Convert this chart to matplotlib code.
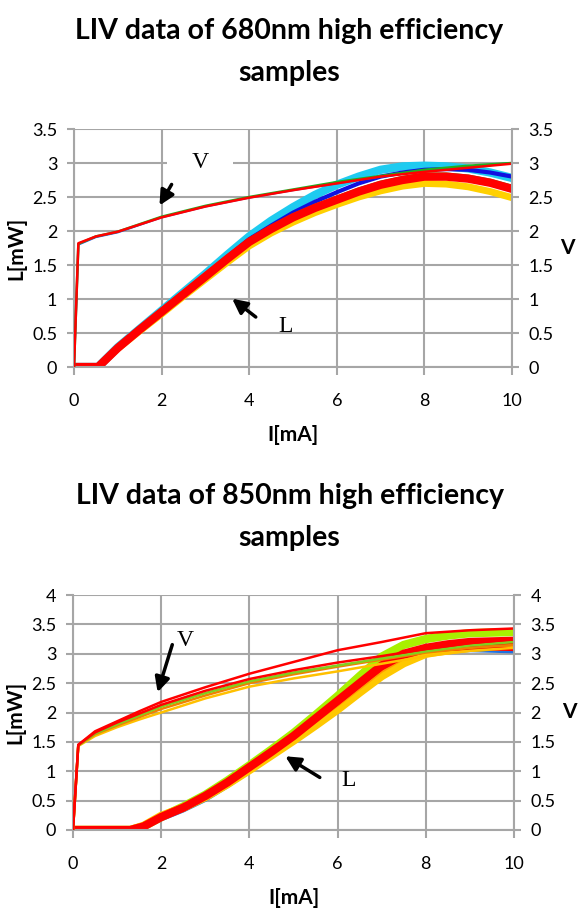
import matplotlib
matplotlib.use('Agg')
import matplotlib.pyplot as plt

# ---- 680nm samples (top chart) ----
I_L_680 = [0, 0.55, 1, 1.5, 2, 2.5, 3, 3.5, 4, 4.5, 5, 5.5, 6, 6.5, 7, 7.5, 8, 8.5, 9, 9.5, 10]
L_680_cyan = [0, 0, 0.29, 0.56, 0.83, 1.1, 1.37, 1.65, 1.92, 2.15, 2.35, 2.53, 2.68, 2.8, 2.9, 2.95, 2.96, 2.95, 2.92, 2.86, 2.78]
L_680_blue = [0, 0, 0.28, 0.55, 0.82, 1.09, 1.35, 1.62, 1.88, 2.08, 2.27, 2.43, 2.57, 2.7, 2.8, 2.86, 2.9, 2.91, 2.9, 2.86, 2.8]
L_680_yellow = [0, 0, 0.27, 0.53, 0.78, 1.04, 1.29, 1.54, 1.78, 1.97, 2.13, 2.27, 2.39, 2.5, 2.59, 2.66, 2.7, 2.69, 2.65, 2.58, 2.49]
L_680_green = [0, 0, 0.3, 0.57, 0.84, 1.1, 1.36, 1.62, 1.87, 2.06, 2.23, 2.37, 2.49, 2.61, 2.71, 2.78, 2.83, 2.83, 2.8, 2.74, 2.65]
L_680_red = [0, 0, 0.28, 0.55, 0.81, 1.07, 1.33, 1.59, 1.84, 2.03, 2.2, 2.34, 2.46, 2.58, 2.68, 2.75, 2.8, 2.8, 2.77, 2.71, 2.62]

I_V_680 = [0, 0.1, 0.5, 1, 2, 3, 4, 5, 6, 7, 8, 9, 10]
V_680_blue = [0, 1.8, 1.91, 1.98, 2.2, 2.36, 2.49, 2.6, 2.7, 2.8, 2.88, 2.94, 3.0]
V_680_green = [0, 1.81, 1.92, 1.99, 2.21, 2.37, 2.5, 2.61, 2.72, 2.81, 2.9, 2.96, 3.0]
V_680_red = [0, 1.82, 1.92, 1.99, 2.2, 2.36, 2.49, 2.6, 2.7, 2.8, 2.87, 2.93, 2.99]

# ---- 850nm samples (bottom chart) ----
I_L_850 = [0, 1.3, 1.6, 2, 2.5, 3, 3.5, 4, 4.5, 5, 5.5, 6, 6.5, 7, 7.5, 8, 8.5, 9, 9.5, 10]
L_850_blue = [0, 0, 0.03, 0.17, 0.32, 0.5, 0.73, 0.98, 1.24, 1.5, 1.79, 2.08, 2.37, 2.66, 2.86, 3.0, 3.03, 3.05, 3.04, 3.03]
L_850_lime = [0, 0, 0.06, 0.22, 0.4, 0.6, 0.84, 1.1, 1.37, 1.65, 1.96, 2.28, 2.62, 2.95, 3.15, 3.25, 3.31, 3.35, 3.36, 3.37]
L_850_yellow = [0, 0, 0.07, 0.24, 0.38, 0.56, 0.78, 1.02, 1.27, 1.52, 1.78, 2.05, 2.34, 2.62, 2.84, 3.0, 3.06, 3.1, 3.12, 3.13]
L_850_orange = [0, 0, 0.06, 0.23, 0.38, 0.57, 0.8, 1.05, 1.3, 1.57, 1.84, 2.12, 2.41, 2.7, 2.92, 3.05, 3.11, 3.15, 3.16, 3.17]
L_850_red2 = [0, 0, 0.05, 0.2, 0.37, 0.57, 0.8, 1.06, 1.32, 1.58, 1.87, 2.16, 2.46, 2.75, 2.95, 3.05, 3.08, 3.1, 3.09, 3.08]
L_850_red = [0, 0, 0.06, 0.22, 0.38, 0.58, 0.81, 1.07, 1.33, 1.6, 1.9, 2.2, 2.5, 2.8, 3.0, 3.1, 3.16, 3.2, 3.21, 3.22]

I_V_850 = [0, 0.12, 0.5, 1, 1.5, 2, 3, 4, 5, 6, 7, 8, 9, 10]
V_850_yellow = [0, 1.43, 1.6, 1.75, 1.88, 2.0, 2.24, 2.44, 2.58, 2.7, 2.83, 2.96, 3.05, 3.1]
V_850_orange = [0, 1.44, 1.63, 1.78, 1.92, 2.06, 2.29, 2.5, 2.65, 2.78, 2.9, 3.02, 3.1, 3.15]
V_850_green = [0, 1.44, 1.64, 1.8, 1.95, 2.1, 2.33, 2.53, 2.68, 2.8, 2.92, 3.04, 3.14, 3.2]
V_850_red2 = [0, 1.45, 1.66, 1.83, 1.98, 2.13, 2.37, 2.57, 2.72, 2.85, 2.96, 3.08, 3.18, 3.25]
V_850_red = [0, 1.45, 1.68, 1.85, 2.02, 2.18, 2.43, 2.66, 2.86, 3.06, 3.2, 3.35, 3.4, 3.43]

titles = ['LIV data of 680nm high efficiency\nsamples',
          'LIV data of 850nm high efficiency\nsamples']

plt.rcParams['font.family'] = ['Lato', 'DejaVu Sans']
grid_c = '#a6a6a6'

fig = plt.figure(figsize=(5.79, 9.11), dpi=100)
ax_top = fig.add_axes([74/579, 1 - 367/911, 438/579, 238/911])
ax_bot = fig.add_axes([73/579, 1 - 830/911, 441/579, 235/911])


def style_axes(ax, ymax, ystep):
    ax2 = ax.twinx()
    ax.set_xlim(0, 10)
    ax.set_ylim(0, ymax)
    ax2.set_ylim(0, ymax)
    ticks = [i * ystep for i in range(int(round(ymax / ystep)) + 1)]
    labels = ['%g' % t for t in ticks]
    ax.set_yticks(ticks, labels)
    ax2.set_yticks(ticks, labels)
    ax.set_xticks([0, 2, 4, 6, 8, 10])
    ax.grid(True, color=grid_c, lw=1.5)
    for s in ['top', 'right']:
        ax.spines[s].set_visible(False)
    for s in ['top', 'left', 'bottom']:
        ax2.spines[s].set_visible(False)
    for s in ['left', 'bottom']:
        ax.spines[s].set_color(grid_c)
        ax.spines[s].set_linewidth(1.5)
    ax2.spines['right'].set_color(grid_c)
    ax2.spines['right'].set_linewidth(1.5)
    ax.tick_params(axis='y', length=5, width=1.5, color=grid_c, labelsize=13, pad=7)
    ax.tick_params(axis='x', length=6, width=1.5, color=grid_c, labelsize=13, pad=13)
    ax2.tick_params(axis='y', length=5, width=1.5, color=grid_c, labelsize=13, pad=7)
    ax.set_xlabel('I[mA]', fontsize=15, fontweight='bold', labelpad=11)
    ax.set_ylabel('L[mW]', fontsize=15, fontweight='bold', labelpad=4)
    ax2.set_ylabel('V', fontsize=15, fontweight='bold', rotation=0, va='center', labelpad=10)
    return ax2


# top chart
ax2 = style_axes(ax_top, 3.5, 0.5)
ax_top.plot(I_L_680, L_680_cyan, color='#1ecbf0', lw=6)
ax_top.plot(I_L_680, L_680_blue, color='#1010e0', lw=3)
ax_top.plot(I_L_680, L_680_yellow, color='#ffd000', lw=5)
ax_top.plot(I_L_680, L_680_green, color='#20c020', lw=3)
ax_top.plot(I_L_680, L_680_red, color='#ff0000', lw=6)
ax2.plot(I_V_680, V_680_blue, color='#3050ff', lw=1.5)
ax2.plot(I_V_680, V_680_green, color='#20b020', lw=1.8)
ax2.plot(I_V_680, V_680_red, color='#ff0000', lw=1.8)
ax2.text(2.88, 3.0, '    V    ', fontsize=17, family='Liberation Serif', ha='center', va='center',
         bbox=dict(facecolor='white', edgecolor='none', pad=1))
ax2.annotate('', xy=(1.92, 2.34), xytext=(2.26, 2.72),
             arrowprops=dict(arrowstyle='-|>', color='k', lw=2.5, mutation_scale=22))
ax2.text(4.82, 0.6, 'L', fontsize=17, family='Liberation Serif', ha='center', va='center')
ax2.annotate('', xy=(3.56, 1.03), xytext=(4.2, 0.71),
             arrowprops=dict(arrowstyle='-|>', color='k', lw=2.5, mutation_scale=22))

# bottom chart
ax2 = style_axes(ax_bot, 4, 0.5)
ax_bot.plot(I_L_850, L_850_blue, color='#2070e0', lw=2)
ax_bot.plot(I_L_850, L_850_lime, color='#a8f000', lw=6)
ax_bot.plot(I_L_850, L_850_yellow, color='#ffc800', lw=6)
ax_bot.plot(I_L_850, L_850_orange, color='#ff9a00', lw=2)
ax_bot.plot(I_L_850, L_850_red2, color='#ff0000', lw=3)
ax_bot.plot(I_L_850, L_850_red, color='#ff0000', lw=6)
ax2.plot(I_V_850, V_850_yellow, color='#ffc000', lw=1.8)
ax2.plot(I_V_850, V_850_orange, color='#f08000', lw=1.8)
ax2.plot(I_V_850, V_850_green, color='#80d020', lw=1.8)
ax2.plot(I_V_850, V_850_red2, color='#ff0000', lw=1.8)
ax2.plot(I_V_850, V_850_red, color='#ff0000', lw=1.8)
ax2.text(2.55, 3.23, 'V', fontsize=17, family='Liberation Serif', ha='center', va='center')
ax2.annotate('', xy=(1.9, 2.3), xytext=(2.27, 3.2),
             arrowprops=dict(arrowstyle='-|>', color='k', lw=2.5, mutation_scale=22))
ax2.text(6.24, 0.85, 'L', fontsize=17, family='Liberation Serif', ha='center', va='center')
ax2.annotate('', xy=(4.76, 1.28), xytext=(5.65, 0.87),
             arrowprops=dict(arrowstyle='-|>', color='k', lw=2.5, mutation_scale=22))

fig.text(0.5, 1 - 52/911, titles[0], ha='center', va='center', fontsize=20.5,
         fontweight='bold', linespacing=1.75)
fig.text(0.5, 1 - 517/911, titles[1], ha='center', va='center', fontsize=20.5,
         fontweight='bold', linespacing=1.75)

fig.savefig('out.png', dpi=100)
